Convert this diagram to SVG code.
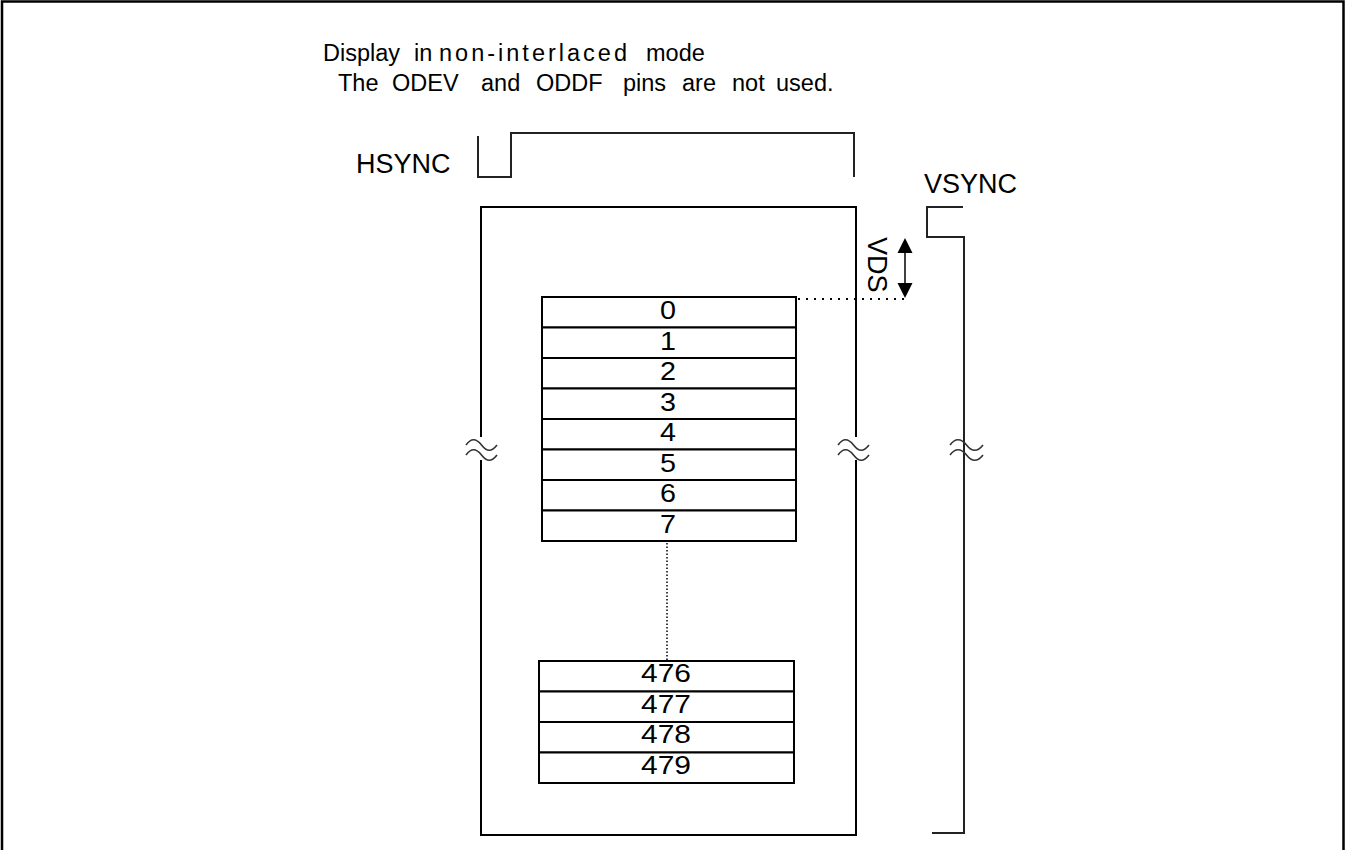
<svg xmlns="http://www.w3.org/2000/svg" width="1346" height="850" viewBox="0 0 1346 850">
<style>
.t{font-family:"Liberation Sans",Arial,sans-serif;fill:#000}
.ln{fill:none;stroke:#000;stroke-width:2}
.wave{fill:none;stroke:#222;stroke-width:2}
.row{fill:#fff;stroke:#000;stroke-width:2}
.num{font-family:"Liberation Sans",Arial,sans-serif;font-size:26px;text-anchor:middle;fill:#000}
.brk{fill:none;stroke:#333;stroke-width:1.6}
</style>
<path d="M2,850 V1.5 H1343.5 V850" fill="none" stroke="#000" stroke-width="2.5"/>
<g id="title">
<text class="t" y="61" font-size="23.5"><tspan x="323">Display</tspan><tspan x="414">in</tspan><tspan x="439" textLength="188" lengthAdjust="spacing">non-interlaced</tspan><tspan x="646">mode</tspan></text>
<text class="t" y="91" font-size="23.5"><tspan x="338">The</tspan><tspan x="392">ODEV</tspan><tspan x="481">and</tspan><tspan x="536">ODDF</tspan><tspan x="623">pins</tspan><tspan x="682">are</tspan><tspan x="732">not</tspan><tspan x="776">used.</tspan></text>
</g>
<g id="hsync">
<text class="t" x="356" y="173" font-size="27">HSYNC</text>
<path class="wave" d="M478,136 V177 H511 V133 H854 V177"/>
</g>
<g id="vsync">
<text class="t" x="924" y="193" font-size="27">VSYNC</text>
<path class="wave" d="M963,207 H927 V237 H964 V833 H932"/>
<path class="brk" d="M950,445 c5,-7 11,-7 16.5,0 s11,7 16.5,0 M950,455 c5,-7 11,-7 16.5,0 s11,7 16.5,0"/>
</g>
<g id="frame">
<path class="ln" d="M481,437 V207 H856 V437 M856,460 V835 H481 V460"/>
<path class="brk" d="M466,445 c5,-7 10,-7 15.5,0 s10,7 15.5,0 M466,455 c5,-7 10,-7 15.5,0 s10,7 15.5,0"/>
<path class="brk" d="M838,445 c5,-7 10,-7 15.5,0 s10,7 15.5,0 M838,455 c5,-7 10,-7 15.5,0 s10,7 15.5,0"/>
</g>
<g id="rows-top">
<rect class="row" x="542" y="297" width="254" height="30.5"/>
<rect class="row" x="542" y="327.5" width="254" height="30.5"/>
<rect class="row" x="542" y="358" width="254" height="30.5"/>
<rect class="row" x="542" y="388.5" width="254" height="30.5"/>
<rect class="row" x="542" y="419" width="254" height="30.5"/>
<rect class="row" x="542" y="449.5" width="254" height="30.5"/>
<rect class="row" x="542" y="480" width="254" height="30.5"/>
<rect class="row" x="542" y="510.5" width="254" height="30.5"/>
<text class="num" x="668" y="319" textLength="16" lengthAdjust="spacingAndGlyphs">0</text>
<text class="num" x="668" y="349.5" textLength="16" lengthAdjust="spacingAndGlyphs">1</text>
<text class="num" x="668" y="380" textLength="16" lengthAdjust="spacingAndGlyphs">2</text>
<text class="num" x="668" y="410.5" textLength="16" lengthAdjust="spacingAndGlyphs">3</text>
<text class="num" x="668" y="441" textLength="16" lengthAdjust="spacingAndGlyphs">4</text>
<text class="num" x="668" y="471.5" textLength="16" lengthAdjust="spacingAndGlyphs">5</text>
<text class="num" x="668" y="502" textLength="16" lengthAdjust="spacingAndGlyphs">6</text>
<text class="num" x="668" y="532.5" textLength="16" lengthAdjust="spacingAndGlyphs">7</text>
</g>
<g id="rows-bottom">
<rect class="row" x="539" y="661" width="255" height="30.5"/>
<rect class="row" x="539" y="691.5" width="255" height="30.5"/>
<rect class="row" x="539" y="722" width="255" height="30.5"/>
<rect class="row" x="539" y="752.5" width="255" height="30.5"/>
<text class="num" x="666" y="682" textLength="50" lengthAdjust="spacingAndGlyphs">476</text>
<text class="num" x="666" y="712.5" textLength="50" lengthAdjust="spacingAndGlyphs">477</text>
<text class="num" x="666" y="743" textLength="50" lengthAdjust="spacingAndGlyphs">478</text>
<text class="num" x="666" y="773.5" textLength="50" lengthAdjust="spacingAndGlyphs">479</text>
</g>
<g id="vds">
<text class="t" font-size="27" transform="translate(868,237) rotate(90)">VDS</text>
</g>
<g id="connectors">
<line x1="905" y1="253" x2="905" y2="283" stroke="#000" stroke-width="1.5"/>
<path d="M905,238 L912.5,253 L897.5,253 Z" fill="#000"/>
<path d="M905,298 L912.5,283 L897.5,283 Z" fill="#000"/>
<line x1="798" y1="299" x2="905" y2="299" stroke="#000" stroke-width="2" stroke-dasharray="2 6"/>
<line x1="667" y1="543" x2="667" y2="660" stroke="#000" stroke-width="1.5" stroke-dasharray="1.5 2"/>
</g>
</svg>
